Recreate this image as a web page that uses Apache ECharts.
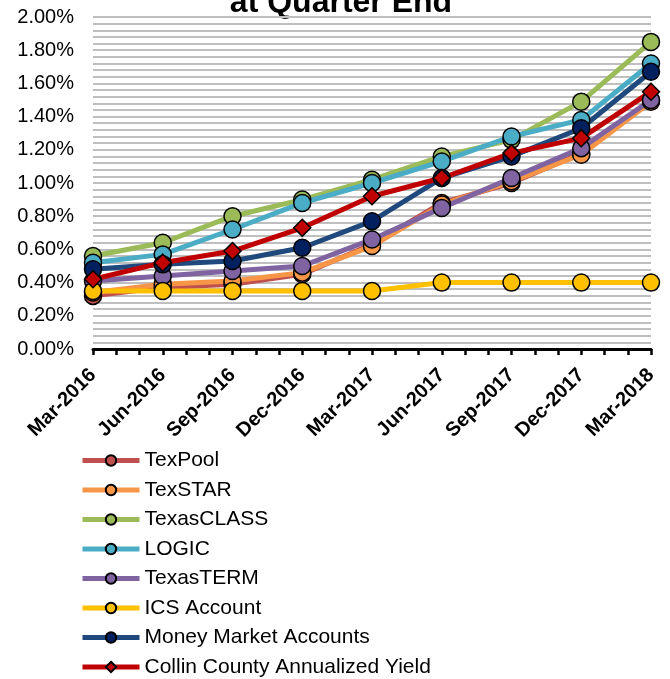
<!DOCTYPE html>
<html><head><meta charset="utf-8">
<script src="https://cdn.jsdelivr.net/npm/echarts@6/dist/echarts.min.js"></script>
<style>html,body{margin:0;padding:0;background:#fff}#c{width:670px;height:679px}</style>
</head><body><div id="c"></div>
<script>
const categories = ['Mar-2016','Jun-2016','Sep-2016','Dec-2016','Mar-2017','Jun-2017','Sep-2017','Dec-2017','Mar-2018'];
const texPool      = [0.32, 0.37, 0.39, 0.45, 0.63, 0.88, 1.00, 1.18, 1.50];
const texStar      = [0.34, 0.39, 0.41, 0.46, 0.62, 0.87, 1.01, 1.17, 1.49];
const texasClass   = [0.56, 0.64, 0.80, 0.90, 1.02, 1.16, 1.26, 1.49, 1.85];
const logic        = [0.52, 0.57, 0.72, 0.88, 1.00, 1.13, 1.28, 1.38, 1.72];
const texasTerm    = [0.41, 0.44, 0.47, 0.50, 0.66, 0.85, 1.03, 1.21, 1.50];
const icsAccount   = [0.35, 0.35, 0.35, 0.35, 0.35, 0.40, 0.40, 0.40, 0.40];
const moneyMarket  = [0.48, 0.51, 0.53, 0.61, 0.77, 1.03, 1.16, 1.33, 1.67];
const collinYield  = [0.42, 0.52, 0.59, 0.73, 0.92, 1.03, 1.18, 1.27, 1.55];
const yTicks = [0, 0.2, 0.4, 0.6, 0.8, 1.0, 1.2, 1.4, 1.6, 1.8, 2.0];

const seriesDefs = [
  {name:'TexPool', data:texPool, line:'#C0504D', fill:'#C0504D', symbol:'circle'},
  {name:'TexSTAR', data:texStar, line:'#F79646', fill:'#F79646', symbol:'circle'},
  {name:'TexasCLASS', data:texasClass, line:'#9BBB59', fill:'#9BBB59', symbol:'circle'},
  {name:'LOGIC', data:logic, line:'#4BACC6', fill:'#4BACC6', symbol:'circle'},
  {name:'TexasTERM', data:texasTerm, line:'#8064A2', fill:'#8064A2', symbol:'circle'},
  {name:'ICS Account', data:icsAccount, line:'#FFC000', fill:'#FFC000', symbol:'circle'},
  {name:'Money Market Accounts', data:moneyMarket, line:'#1F497D', fill:'#002060', symbol:'circle'},
  {name:'Collin County Annualized Yield', data:collinYield, line:'#C00000', fill:'#C00000', symbol:'diamond'}
];

const chart = echarts.init(document.getElementById('c'));
chart.setOption({
  animation:false,
  backgroundColor:'#fff',
  graphic:[{type:'text', x:341, y:-13, style:{text:'at Quarter End', textAlign:'center', font:'bold 32px Arial, "Liberation Sans"', fill:'#000'}}],
  grid:{left:93, right:19, top:17, bottom:330, containLabel:false},
  xAxis:{type:'value', min:0, max:(categories.length-1)*3, interval:1,
    axisLine:{show:true, lineStyle:{color:'#000', width:3}},
    axisTick:{show:true, length:6, lineStyle:{color:'#000', width:2.5}},
    axisLabel:{rotate:45, margin:23, color:'#000', fontFamily:'Arial, "Liberation Sans"', fontWeight:'bold', fontSize:20,
      formatter:v => (v%3===0 ? categories[v/3] : '')},
    splitLine:{show:false}},
  yAxis:{type:'value', min:yTicks[0], max:yTicks[yTicks.length-1], interval:0.2,
    axisLine:{show:false}, axisTick:{show:false},
    axisLabel:{color:'#000', fontFamily:'Arial, "Liberation Sans"', fontSize:20, margin:19, formatter:v => v.toFixed(2)+'%'},
    splitLine:{show:true, lineStyle:{color:'#BFBFBF', width:1.8}},
    minorTick:{show:false, splitNumber:5},
    minorSplitLine:{show:true, lineStyle:{color:'#BFBFBF', width:1.8}}},
  legend:{orient:'vertical', left:80, top:450, padding:0, itemWidth:57, itemHeight:13, itemGap:8.5, height:240,
    lineStyle:{width:5},
    textStyle:{color:'#000', fontFamily:'Arial, "Liberation Sans"', fontSize:21, lineHeight:21},
    data:seriesDefs.map(s=>s.name)},
  series:seriesDefs.map(s=>({
    name:s.name, type:'line', data:s.data.map((v,i)=>[i*3, v]),
    symbol:s.symbol, symbolSize:17, showSymbol:true,
    lineStyle:{color:s.line, width:5},
    itemStyle:{color:s.fill, borderColor:'#000', borderWidth:1.5},
    emphasis:{disabled:true}
  }))
});
</script></body></html>
